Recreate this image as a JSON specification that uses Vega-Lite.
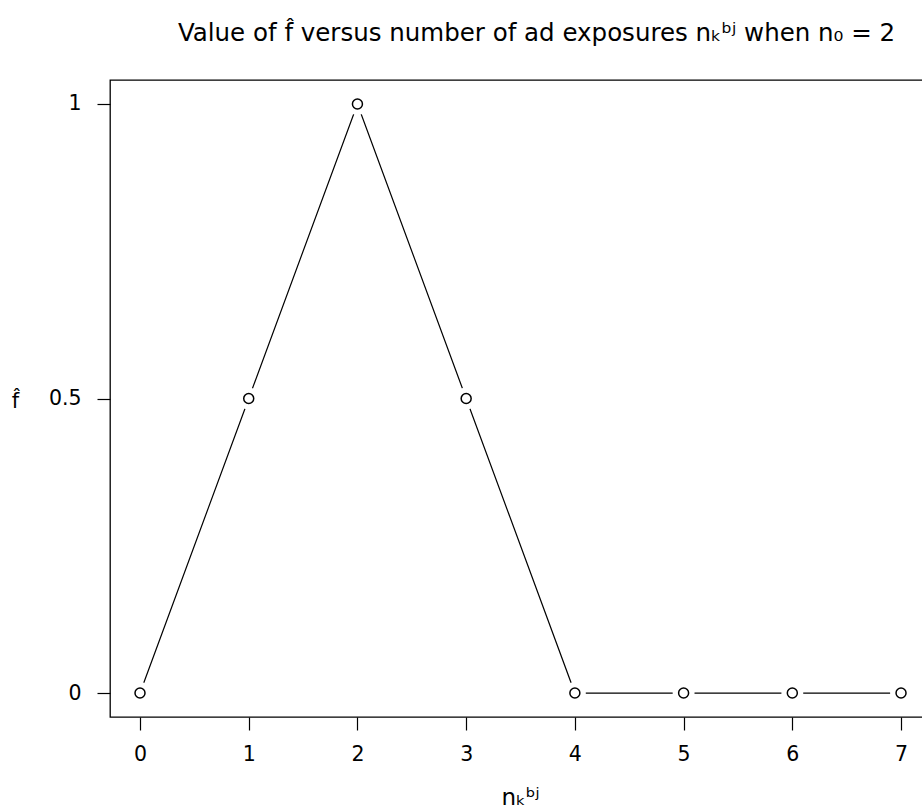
{
  "$schema": "https://vega.github.io/schema/vega-lite/v6.json",
  "width": 813,
  "height": 637,
  "autosize": {"type": "none"},
  "padding": {"left": 110, "top": 80, "right": 0, "bottom": 92},
  "background": "white",
  "config": {
    "view": {"stroke": "black", "strokeWidth": 1.3},
    "font": "DejaVu Sans"
  },
  "title": {
    "text": "Value of f̂ versus number of ad exposures nₖᵇʲ when n₀ = 2",
    "anchor": "middle",
    "frame": "group",
    "dx": 20,
    "baseline": "alphabetic",
    "offset": 15,
    "font": "DejaVu Sans",
    "fontSize": 24.5,
    "fontWeight": "normal",
    "color": "black"
  },
  "data": {
    "values": [
      {"n": 0, "f": 0},
      {"n": 1, "f": 0.5},
      {"n": 2, "f": 1},
      {"n": 3, "f": 0.5},
      {"n": 4, "f": 0},
      {"n": 5, "f": 0},
      {"n": 6, "f": 0},
      {"n": 7, "f": 0}
    ]
  },
  "encoding": {
    "x": {
      "field": "n",
      "type": "quantitative",
      "scale": {"domain": [-0.276, 7.202], "nice": false, "zero": false},
      "axis": {
        "values": [0, 1, 2, 3, 4, 5, 6, 7],
        "format": "d",
        "grid": false,
        "domain": false,
        "tickSize": 13,
        "tickColor": "black",
        "tickWidth": 1.2,
        "labelFont": "DejaVu Sans",
        "labelFontSize": 20.5,
        "labelColor": "black",
        "labelPadding": 14,
        "title": "nₖᵇʲ",
        "titleFont": "DejaVu Sans",
        "titleFontSize": 23,
        "titleFontWeight": "normal",
        "titleColor": "black",
        "titleX": 410,
        "titleY": 87,
        "titleBaseline": "alphabetic",
        "titleAnchor": "middle"
      }
    },
    "y": {
      "field": "f",
      "type": "quantitative",
      "scale": {"domain": [-0.0407, 1.0407], "nice": false, "zero": false},
      "axis": {
        "values": [0, 0.5, 1],
        "format": "~g",
        "grid": false,
        "domain": false,
        "tickSize": 13,
        "tickColor": "black",
        "tickWidth": 1.2,
        "labelFont": "DejaVu Sans",
        "labelFontSize": 20.5,
        "labelColor": "black",
        "labelPadding": 16,
        "title": "f̂",
        "titleAngle": 0,
        "titleFont": "DejaVu Sans",
        "titleFontSize": 21,
        "titleFontWeight": "normal",
        "titleColor": "black",
        "titleX": -95,
        "titleY": 327,
        "titleAlign": "center",
        "titleBaseline": "alphabetic"
      }
    }
  },
  "layer": [
    {"mark": {"type": "line", "color": "black", "strokeWidth": 1.2}},
    {"mark": {"type": "point", "shape": "circle", "filled": true, "color": "white", "opacity": 1, "size": 480, "strokeWidth": 0}},
    {"mark": {"type": "point", "shape": "circle", "filled": false, "fill": "white", "fillOpacity": 1, "stroke": "black", "opacity": 1, "strokeWidth": 1.5, "size": 100}}
  ]
}
